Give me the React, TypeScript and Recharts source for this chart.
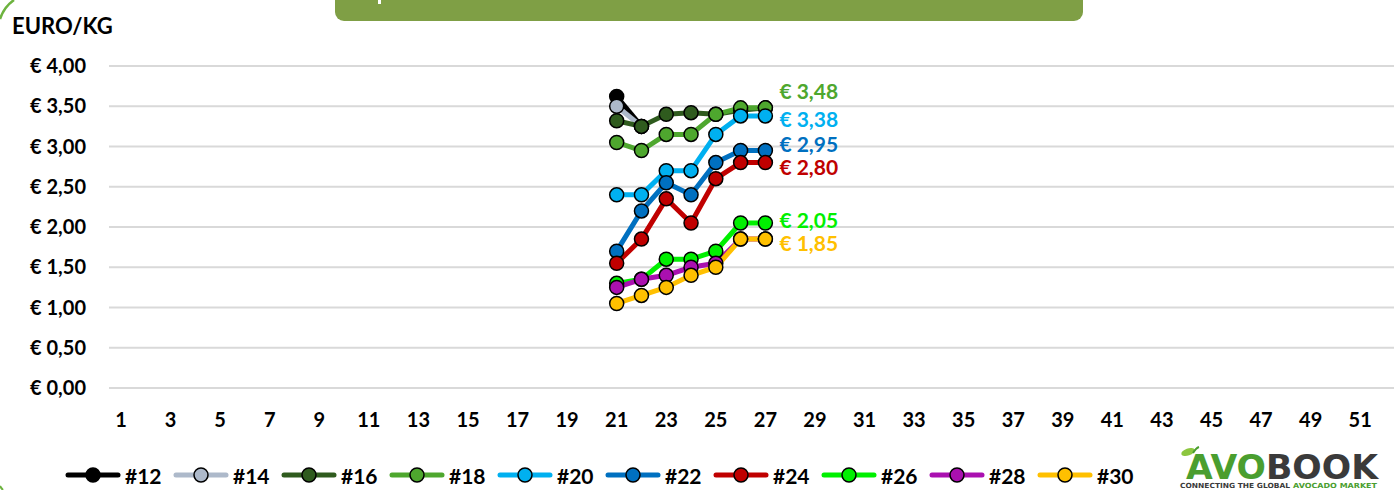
import React from "react";
import { LineChart, Line, XAxis, YAxis, CartesianGrid, LabelList } from "recharts";

// weeks on the x axis
const weeks = [
  1, 2, 3, 4, 5, 6, 7, 8, 9, 10, 11, 12, 13, 14, 15, 16, 17, 18, 19, 20, 21, 22, 23, 24, 25, 26,
  27, 28, 29, 30, 31, 32, 33, 34, 35, 36, 37, 38, 39, 40, 41, 42, 43, 44, 45, 46, 47, 48, 49, 50,
  51, 52,
];
const firstWeek = 21;

// price per caliber, week 21 onwards
const caliber12 = [3.62, 3.25];
const caliber14 = [3.5, 3.25];
const caliber16 = [3.32, 3.25, 3.4, 3.42, 3.4, 3.45, 3.48];
const caliber18 = [3.05, 2.95, 3.15, 3.15, 3.4, 3.48, 3.48];
const caliber20 = [2.4, 2.4, 2.7, 2.7, 3.15, 3.38, 3.38];
const caliber22 = [1.7, 2.2, 2.55, 2.4, 2.8, 2.95, 2.95];
const caliber24 = [1.55, 1.85, 2.35, 2.05, 2.6, 2.8, 2.8];
const caliber26 = [1.3, 1.35, 1.6, 1.6, 1.7, 2.05, 2.05];
const caliber28 = [1.25, 1.35, 1.4, 1.5, 1.55, 1.85, 1.85];
const caliber30 = [1.05, 1.15, 1.25, 1.4, 1.5, 1.85, 1.85];

const yTicks = [0, 0.5, 1, 1.5, 2, 2.5, 3, 3.5, 4];

const series = [
  { name: "#12", values: caliber12, color: "#000000" },
  { name: "#14", values: caliber14, color: "#ADB9CA" },
  { name: "#16", values: caliber16, color: "#2F5B1E" },
  { name: "#18", values: caliber18, color: "#4EA72E", labelDy: -16 },
  { name: "#20", values: caliber20, color: "#00B0F0", labelDy: 4 },
  { name: "#22", values: caliber22, color: "#0070C0", labelDy: -6 },
  { name: "#24", values: caliber24, color: "#C00000", labelDy: 5 },
  { name: "#26", values: caliber26, color: "#00F000", labelDy: -3 },
  { name: "#28", values: caliber28, color: "#AA10B0" },
  { name: "#30", values: caliber30, color: "#FFC000", labelDy: 4 },
];

const data = weeks.map((week) => {
  const row: Record<string, number | null> = { week };
  series.forEach((s) => {
    const i = week - firstWeek;
    row[s.name] = i >= 0 && i < s.values.length ? s.values[i] : null;
  });
  return row;
});

const euro = (v: number) => `€ ${v.toFixed(2).replace(".", ",")}`;

const FONT = "Lato, 'Open Sans', sans-serif";

const Legend = () => (
  <div
    style={{
      position: "absolute",
      left: 65,
      top: 462,
      display: "flex",
      alignItems: "center",
      fontFamily: FONT,
      fontWeight: 700,
      fontSize: 21,
      color: "#000",
    }}
  >
    {series.map((s) => (
      <div key={s.name} style={{ display: "flex", alignItems: "center", width: 108 }}>
        <svg width={56} height={26}>
          <line x1={3} y1={13} x2={53} y2={13} stroke={s.color} strokeWidth={5} strokeLinecap="round" />
          <circle cx={28} cy={13} r={7} fill={s.color} stroke="#000" strokeWidth={1.5} />
        </svg>
        <span style={{ marginLeft: 4 }}>{s.name}</span>
      </div>
    ))}
  </div>
);

const Logo = () => (
  <div style={{ position: "absolute", left: 1176, top: 444, width: 210 }}>
    <svg width={210} height={46}>
      <ellipse cx={12} cy={8} rx={7} ry={3.5} fill="#8CC63F" transform="rotate(-20 12 8)" />
      <path d="M17 9 Q20 4 23 3" stroke="#4A9E2F" strokeWidth={2} fill="none" />
      <text
        x={10}
        y={35}
        fontFamily="'DejaVu Sans', sans-serif"
        fontWeight={900}
        fontSize={33}
        textLength={192}
        lengthAdjust="spacingAndGlyphs"
      >
        <tspan fill="#4A9E2F">AVO</tspan>
        <tspan fill="#3A3A3A">BOOK</tspan>
      </text>
      <text
        x={4}
        y={44}
        fill="#3A3A3A"
        fontFamily="'DejaVu Sans', sans-serif"
        fontWeight={700}
        fontSize={7}
        textLength={110}
        lengthAdjust="spacingAndGlyphs"
      >
        CONNECTING THE GLOBAL
      </text>
      <text
        x={117}
        y={44}
        fill="#4A9E2F"
        fontFamily="'DejaVu Sans', sans-serif"
        fontWeight={700}
        fontSize={7}
        textLength={84}
        lengthAdjust="spacingAndGlyphs"
      >
        AVOCADO MARKET
      </text>
    </svg>
  </div>
);

export default function App() {
  return (
    <div
      style={{
        position: "absolute",
        left: 0,
        top: 0,
        width: 1394,
        height: 490,
        background: "#fff",
        overflow: "hidden",
        fontFamily: FONT,
      }}
    >
      <svg width={40} height={30} style={{ position: "absolute", left: 0, top: 0 }}>
        <path d="M0 19 Q4 7 14 0" stroke="#6DB33F" strokeWidth={2.5} fill="none" />
      </svg>
      <svg width={10} height={10} style={{ position: "absolute", left: 0, top: 480 }}>
        <path d="M0 6 Q1 8 3 10" stroke="#6DB33F" strokeWidth={2} fill="none" />
      </svg>
      <div
        style={{
          position: "absolute",
          left: 335,
          top: 0,
          width: 748,
          height: 21,
          background: "#7F9F45",
          borderBottomLeftRadius: 9,
          borderBottomRightRadius: 9,
        }}
      >
        <div style={{ position: "absolute", left: 43, top: 0, width: 3, height: 4, background: "#fff" }} />
      </div>
      <div
        style={{
          position: "absolute",
          left: 12,
          top: 12,
          fontSize: 22,
          fontWeight: 700,
          color: "#000",
        }}
      >
        EURO/KG
      </div>
      <LineChart
        width={1394}
        height={490}
        data={data}
        margin={{ top: 66, right: -3, left: 0, bottom: 72 }}
      >
        <CartesianGrid horizontal vertical={false} stroke="#D9D9D9" strokeWidth={2} />
        <XAxis
          dataKey="week"
          interval={1}
          padding={{ left: 12, right: 12 }}
          axisLine={false}
          tickLine={false}
          tickSize={0}
          tickMargin={25}
          height={30}
          tick={{ fill: "#000", fontSize: 20, fontWeight: 700, fontFamily: FONT }}
        />
        <YAxis
          domain={[0, 4]}
          ticks={yTicks}
          width={109}
          axisLine={false}
          tickLine={false}
          tickSize={0}
          tickMargin={23}
          tickFormatter={euro}
          tick={{ fill: "#000", fontSize: 20, fontWeight: 700, fontFamily: FONT }}
        />
        {series.map((s) => {
          const lastIndex = firstWeek - 1 + s.values.length - 1;
          return (
            <Line
              key={s.name}
              dataKey={s.name}
              stroke={s.color}
              strokeWidth={5}
              strokeLinejoin="round"
              dot={{ r: 7, fill: s.color, stroke: "#000", strokeWidth: 1.5 }}
              activeDot={false}
              isAnimationActive={false}
            >
              {s.labelDy !== undefined && (
                <LabelList
                  dataKey={s.name}
                  content={(p: any) =>
                    p.index === lastIndex && p.value != null ? (
                      <text
                        x={Number(p.x) + 14}
                        y={Number(p.y) + s.labelDy}
                        dy="0.36em"
                        fill={s.color}
                        fontSize={21}
                        fontWeight={700}
                        fontFamily={FONT}
                      >
                        {euro(Number(p.value))}
                      </text>
                    ) : null
                  }
                />
              )}
            </Line>
          );
        })}
      </LineChart>
      <Legend />
      <Logo />
    </div>
  );
}
